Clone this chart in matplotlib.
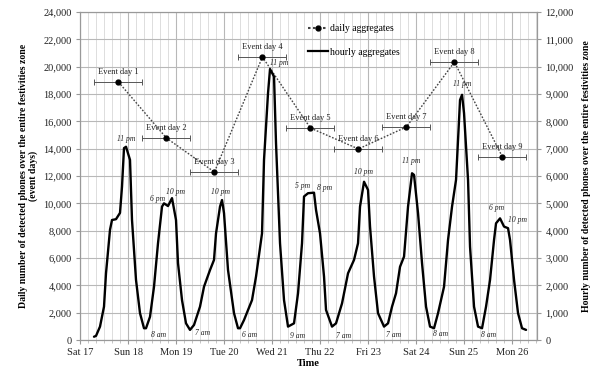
import numpy as np
import matplotlib
matplotlib.use('Agg')
from matplotlib import pyplot as plt
from matplotlib.lines import Line2D
from matplotlib.ticker import FuncFormatter, MultipleLocator

plt.rcParams['font.family'] = ['Liberation Serif', 'DejaVu Serif']

# x tick labels (one per day, starting Sat 17 00:00)
day_labels = ['Sat 17', 'Sun 18', 'Mon 19', 'Tue 20', 'Wed 21',
              'Thu 22', 'Fri 23', 'Sat 24', 'Sun 25', 'Mon 26']

# daily aggregates (left axis), centre of each event day in days
event_centre = [0.8, 1.8, 2.8, 3.8, 4.8, 5.8, 6.8, 7.8, 8.8]
daily = [18880, 14780, 12290, 20710, 15510, 13980, 15590, 20340, 13390]
event_names = ['Event day %d' % (i + 1) for i in range(9)]

# hourly aggregates (right axis), hours since Sat 17 00:00
hours = [7, 8, 10, 12, 13, 15, 16, 18, 20, 21, 22, 23, 25, 26, 28, 30, 32, 33,
         35, 37, 39, 41, 42, 44, 46, 48, 49, 51, 53, 55, 57, 60, 62, 65, 67,
         68, 70, 71, 72, 74, 77, 79, 80, 82, 86, 88, 91, 92, 94, 95, 97, 98,
         100, 102, 104, 107, 109, 111, 112, 114, 117, 118, 120, 122, 123, 126,
         128, 131, 134, 137, 139, 140, 142, 144, 145, 147, 149, 152, 154, 156,
         158, 160, 162, 164, 166, 167, 169, 171, 173, 175, 177, 179, 182, 184,
         186, 188, 189, 190, 191, 192, 194, 195, 197, 199, 201, 203, 205, 207,
         208, 210, 212, 214, 215, 217, 219, 221, 223]
hourly = [120, 150, 490, 1220, 2440, 4030, 4390, 4420, 4650, 5610, 7020, 7070,
          6590, 4390, 2200, 980, 430, 430, 850, 1950, 3540, 4880, 5000, 4900,
          5190, 4390, 2810, 1460, 610, 370, 550, 1220, 1950, 2560, 2930, 3900,
          4880, 5120, 4640, 2560, 980, 430, 430, 730, 1460, 2320, 3900, 6590,
          9030, 9910, 9640, 7200, 3540, 1460, 490, 610, 1710, 3540, 5250, 5370,
          5390, 4760, 3900, 2320, 1100, 490, 610, 1340, 2440, 2930, 3540, 4880,
          5790, 5490, 4150, 2320, 980, 490, 610, 1220, 1710, 2680, 3050, 4880,
          6100, 6040, 4640, 2810, 1220, 490, 430, 980, 1950, 3660, 4880, 5860,
          7320, 8780, 8970, 8300, 5860, 3410, 1220, 490, 430, 1220, 2200, 3660,
          4270, 4450, 4150, 4090, 3660, 2200, 980, 430, 370]

# labelled hours on the hourly curve
mark_hours = [23, 32, 42, 46, 55, 71, 79, 95, 104, 114, 117, 126, 142, 152,
              166, 177, 191, 201, 210, 214]
mark_text = ['11 pm', '8 am', '6 pm', '10 pm', '7 am', '10 pm', '6 am',
             '11 pm', '9 am', '5 pm', '8 pm', '7 am', '10 pm', '7 am',
             '11 pm', '8 am', '11 pm', '8 am', '6 pm', '10 pm']
# label offsets in pixels (dx, dy)
mark_offset = [(0, 8), (15, -7), (-6, 4), (3, 6), (13, -3), (-2, 8),
               (12, -7), (9, 6), (10, -9), (-5, 7), (11, 5), (12, -9),
               (-1, 10), (10, -8), (-1, 12), (7, -6), (0, 11), (7, -7),
               (-3, 10), (9, 8)]

fig = plt.figure(figsize=(6, 3.75), dpi=100)
ax = fig.add_axes([80 / 600, 1 - 340 / 375, 457 / 600, 328 / 375])
ax2 = ax.twinx()

ax.set_xlim(0, 9.52)
ax.set_ylim(0, 24000)
ax2.set_ylim(0, 12000)

ax.xaxis.set_major_locator(MultipleLocator(1))
ax.xaxis.set_minor_locator(MultipleLocator(1 / 6))
ax.set_xticks(range(len(day_labels)))
ax.set_xticklabels(day_labels)
ax.yaxis.set_major_locator(MultipleLocator(2000))
ax2.yaxis.set_major_locator(MultipleLocator(1000))
fmt = FuncFormatter(lambda v, p: '{:,.0f}'.format(v))
ax.yaxis.set_major_formatter(fmt)
ax2.yaxis.set_major_formatter(fmt)

ax.grid(which='major', color='#b8b8b8', linewidth=0.8)
ax.grid(which='minor', axis='x', color='#d8d8d8', linewidth=0.6)
ax.set_axisbelow(True)

for a in (ax, ax2):
    for s in a.spines.values():
        s.set_color('#999999')
        s.set_linewidth(0.8)
    a.tick_params(which='major', labelsize=7.5, colors='#222222', length=3,
                  color='#999999', pad=3)
    a.tick_params(which='minor', length=2, color='#bbbbbb')

# daily aggregates
ax.errorbar(event_centre, daily, xerr=0.5, fmt='none', ecolor='#555555',
            elinewidth=0.7, capsize=2, capthick=0.7, zorder=3)
ax.plot(event_centre, daily, linestyle=(0, (1.2, 1.2)), color='#444444',
        linewidth=1.0, zorder=3)
ax.plot(event_centre, daily, 'o', color='black', markersize=3.5, zorder=4)
for x, y, name in zip(event_centre, daily, event_names):
    ax.annotate(name, (x, y), xytext=(0, 10 * 0.72), textcoords='offset points',
                ha='center', va='center', fontsize=6, color='#222222')

# hourly aggregates
hx = np.array(hours) / 24.0
ax2.plot(hx, hourly, color='black', linewidth=1.7, zorder=5,
         solid_joinstyle='round', solid_capstyle='round')
for h, t, (dx, dy) in zip(mark_hours, mark_text, mark_offset):
    v = np.interp(h, hours, hourly)
    ax2.annotate(t, (h / 24.0, v), xytext=(dx * 0.72, dy * 0.72),
                 textcoords='offset points', ha='center', va='center',
                 fontsize=5.5, style='italic', color='#222222')

ax.set_xlabel('Time', fontsize=7.5, fontweight='bold', labelpad=1)
ax.set_ylabel('Daily number of detected phones over the entire festivities zone\n(event days)',
              fontsize=7, fontweight='bold', labelpad=4, linespacing=1.0)
ax2.set_ylabel('Hourly number of detected phones over the entire festivities zone',
               fontsize=7, fontweight='bold', labelpad=6)

handles = [Line2D([], [], linestyle=(0, (1.2, 1.2)), color='#444444', marker='o',
                  markersize=3.5, markerfacecolor='black', markeredgecolor='black'),
           Line2D([], [], color='black', linewidth=1.6)]
leg = ax2.legend(handles, ['daily aggregates', 'hourly aggregates'],
                 loc='upper left', bbox_to_anchor=(0.48, 0.99), frameon=False,
                 fontsize=7, handlelength=2.0, labelspacing=1.5, handletextpad=0.3)

fig.savefig('out.png', dpi=100)
